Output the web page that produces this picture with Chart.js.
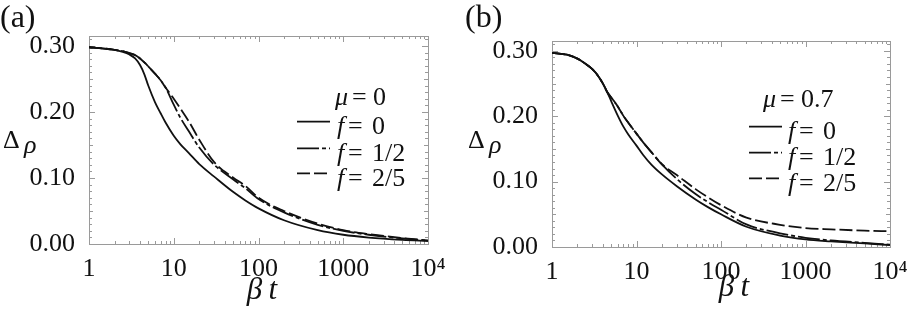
<!DOCTYPE html>
<html lang="en">
<head>
<meta charset="UTF-8">
<script src="https://cdn.jsdelivr.net/npm/chart.js"></script>
<title>Delta rho vs beta t</title>
<style>
  body { margin: 0; background: #fff; }
  #wrap { position: relative; width: 914px; height: 316px; }
  canvas { position: absolute; top: 0; }
  #chartA { left: 0; }
  #chartB { left: 457px; }
</style>
</head>
<body>
<div id="wrap">
  <canvas id="chartA" width="457" height="316"></canvas>
  <canvas id="chartB" width="457" height="316"></canvas>
</div>
<script>
// beta*t sample points (log axis)
var betaT = [1, 1.5, 2, 2.5, 3, 3.5, 4, 4.5, 5, 6, 7, 8, 10, 12, 15, 20, 30, 50, 70, 100, 200, 500, 1000, 2000, 5000, 10000];
var xTickValues = [1, 10, 100, 1000, 10000];
var xTickLabels = ['1', '10', '100', '1000', '10⁴'];
var yTickValues = [0, 0.1, 0.2, 0.3];
var fLabels = ['0', '1/2', '2/5'];
var muA = '0';
var muB = '0.7';

// (a) mu = 0
var a_f0  = [0.298, 0.296, 0.294, 0.291, 0.287, 0.281, 0.271, 0.257, 0.240, 0.215, 0.198, 0.184, 0.164, 0.151, 0.138, 0.121, 0.102, 0.079, 0.066, 0.054, 0.036, 0.021, 0.014, 0.0098, 0.0063, 0.0045];
var a_f12 = [0.298, 0.296, 0.294, 0.292, 0.289, 0.286, 0.281, 0.275, 0.269, 0.258, 0.248, 0.237, 0.211, 0.191, 0.171, 0.146, 0.120, 0.098, 0.0845, 0.068, 0.048, 0.029, 0.020, 0.014, 0.0085, 0.005];
var a_f25 = [0.298, 0.296, 0.294, 0.292, 0.289, 0.286, 0.281, 0.275, 0.269, 0.258, 0.248, 0.237, 0.220, 0.205, 0.186, 0.158, 0.124, 0.1007, 0.088, 0.070, 0.050, 0.031, 0.021, 0.015, 0.009, 0.0055];

// (b) mu = 0.7
var b_f0  = [0.297, 0.294, 0.288, 0.280, 0.272, 0.262, 0.250, 0.237, 0.2235, 0.201, 0.184, 0.172, 0.155, 0.1407, 0.126, 0.111, 0.093, 0.0727, 0.061, 0.050, 0.031, 0.0175, 0.0115, 0.0085, 0.0055, 0.003];
var b_f12 = [0.297, 0.294, 0.288, 0.280, 0.272, 0.262, 0.250, 0.237, 0.229, 0.215, 0.2005, 0.190, 0.1733, 0.160, 0.145, 0.1265, 0.104, 0.081, 0.0687, 0.057, 0.0345, 0.021, 0.014, 0.010, 0.0064, 0.0035];
var b_f25 = [0.297, 0.294, 0.288, 0.280, 0.272, 0.262, 0.250, 0.237, 0.229, 0.215, 0.2005, 0.190, 0.1733, 0.160, 0.145, 0.1265, 0.110, 0.0885, 0.076, 0.064, 0.045, 0.034, 0.029, 0.027, 0.025, 0.024];

var SERIF = '"Liberation Serif"';
var dashes = [[], [22, 3, 4, 3], [13, 4]];
var INK = '#111';

function txt(ctx, s, x, y, style, size) {
  ctx.font = style + ' ' + size + 'px ' + SERIF;
  ctx.fillText(s, x, y);
}

// frame with inward ticks on all four sides, labels and legend
var framePlugin = {
  id: 'frame',
  beforeDatasetsDraw: function(chart) {
    var ctx = chart.ctx, a = chart.chartArea;
    var xs = chart.scales.x, ys = chart.scales.y;
    ctx.save();
    ctx.strokeStyle = '#9a9a9a';
    ctx.lineWidth = 1;
    ctx.strokeRect(Math.round(a.left) + 0.5, Math.round(a.top) + 0.5, Math.round(a.right - a.left), Math.round(a.bottom - a.top));
    ctx.beginPath();
    for (var d = 1; d <= 10000; d *= 10) {
      for (var k = 1; k < 10; k++) {
        var v = d * k;
        if (v > 10000) break;
        var px = Math.round(xs.getPixelForValue(v)) + 0.5;
        var len = k == 1 ? 6 : 3;
        ctx.moveTo(px, a.bottom); ctx.lineTo(px, a.bottom - len);
        ctx.moveTo(px, a.top); ctx.lineTo(px, a.top + len);
      }
    }
    for (var i = 0; i <= 31; i++) {
      var py = Math.round(ys.getPixelForValue(i / 100)) + 0.5;
      var l2 = i % 10 == 0 ? 6 : (i % 5 == 0 ? 4 : 3);
      ctx.moveTo(a.left, py); ctx.lineTo(a.left + l2, py);
      ctx.moveTo(a.right, py); ctx.lineTo(a.right - l2, py);
    }
    ctx.stroke();
    ctx.restore();
  },
  afterDraw: function(chart, args, o) {
    var ctx = chart.ctx;
    ctx.save();
    ctx.fillStyle = INK;
    ctx.textBaseline = 'alphabetic';
    ctx.textAlign = 'left';
    // panel tag
    txt(ctx, o.panel, o.panelX, 27, 'normal', 32);
    // y title
    txt(ctx, 'Δ', o.yTitleX, o.yTitleY, 'normal', 26);
    txt(ctx, 'ρ', o.yTitleX + 21, o.yTitleY + 5, 'italic', 26);
    // x title
    ctx.textAlign = 'center';
    txt(ctx, 'β\u2009t', o.xTitleX, o.xTitleY, 'italic', 31);
    ctx.textAlign = 'left';
    // legend
    txt(ctx, 'μ', o.muX, o.muY, 'italic', 26);
    txt(ctx, '=', o.muX + 17, o.muY, 'normal', 26);
    txt(ctx, o.mu, o.muX + 38, o.muY, 'normal', 26);
    chart.data.datasets.forEach(function(ds, i) {
      var ly = o.rows[i];
      ctx.beginPath();
      ctx.strokeStyle = INK;
      ctx.lineWidth = 1.8;
      ctx.setLineDash(ds.borderDash || []);
      ctx.moveTo(o.lineX0, ly);
      ctx.lineTo(o.lineX1, ly);
      ctx.stroke();
      ctx.setLineDash([]);
      txt(ctx, 'f', o.textX, ly + 12.5, 'italic', 26);
      txt(ctx, '=', o.textX + 11, ly + 12.5, 'normal', 26);
      txt(ctx, fLabels[i], o.textX + 35, ly + 12.5, 'normal', 26);
    });
    ctx.restore();
  }
};

function ds(vals, dash) {
  return {
    data: betaT.map(function(t, i) { return { x: t, y: vals[i] }; }),
    borderColor: INK,
    borderWidth: 1.8,
    borderDash: dash,
    pointRadius: 0,
    cubicInterpolationMode: 'monotone',
    fill: false
  };
}

function makeChart(id, f0, f12, f25, o) {
  return new Chart(document.getElementById(id), {
    type: 'line',
    data: { datasets: [ds(f0, dashes[0]), ds(f12, dashes[1]), ds(f25, dashes[2])] },
    options: {
      responsive: false,
      animation: false,
      events: [],
      layout: { padding: { top: o.top, right: o.right, left: 0, bottom: 0 } },
      plugins: { legend: { display: false }, tooltip: { enabled: false }, frame: o },
      scales: {
        x: {
          type: 'logarithmic', min: 1, max: 10000,
          afterBuildTicks: function(s) { s.ticks = xTickValues.map(function(v) { return { value: v }; }); },
          afterFit: function(s) { s.height = o.xh; },
          grid: { display: false }, border: { display: false },
          ticks: {
            padding: 2, color: INK, maxRotation: 0, autoSkip: false,
            font: { family: SERIF, size: 26 },
            callback: function(v) { return xTickLabels[xTickValues.indexOf(v)]; }
          }
        },
        y: {
          min: 0, max: 0.315,
          afterBuildTicks: function(s) { s.ticks = yTickValues.map(function(v) { return { value: v }; }); },
          afterFit: function(s) { s.width = o.yw; },
          grid: { display: false }, border: { display: false },
          ticks: {
            padding: 6, color: INK,
            font: { family: SERIF, size: 26 },
            callback: function(v) { return v.toFixed(2); }
          }
        }
      }
    },
    plugins: [framePlugin]
  });
}

makeChart('chartA', a_f0, a_f12, a_f25, {
  top: 36, right: 29, xh: 72, yw: 89,
  panel: '(a)', panelX: 0,
  yTitleX: 3, yTitleY: 148, xTitleX: 262, xTitleY: 299,
  mu: muA, muX: 335, muY: 105,
  rows: [121.7, 148.3, 173.3], lineX0: 297, lineX1: 330, textX: 337
});

makeChart('chartB', b_f0, b_f12, b_f25, {
  top: 41, right: 24, xh: 69, yw: 95,
  panel: '(b)', panelX: 8,
  yTitleX: 11, yTitleY: 148, xTitleX: 277, xTitleY: 296,
  mu: muB, muX: 306, muY: 106.7,
  rows: [126.7, 152.7, 178.3], lineX0: 292, lineX1: 325, textX: 331
});
</script>
</body>
</html>
